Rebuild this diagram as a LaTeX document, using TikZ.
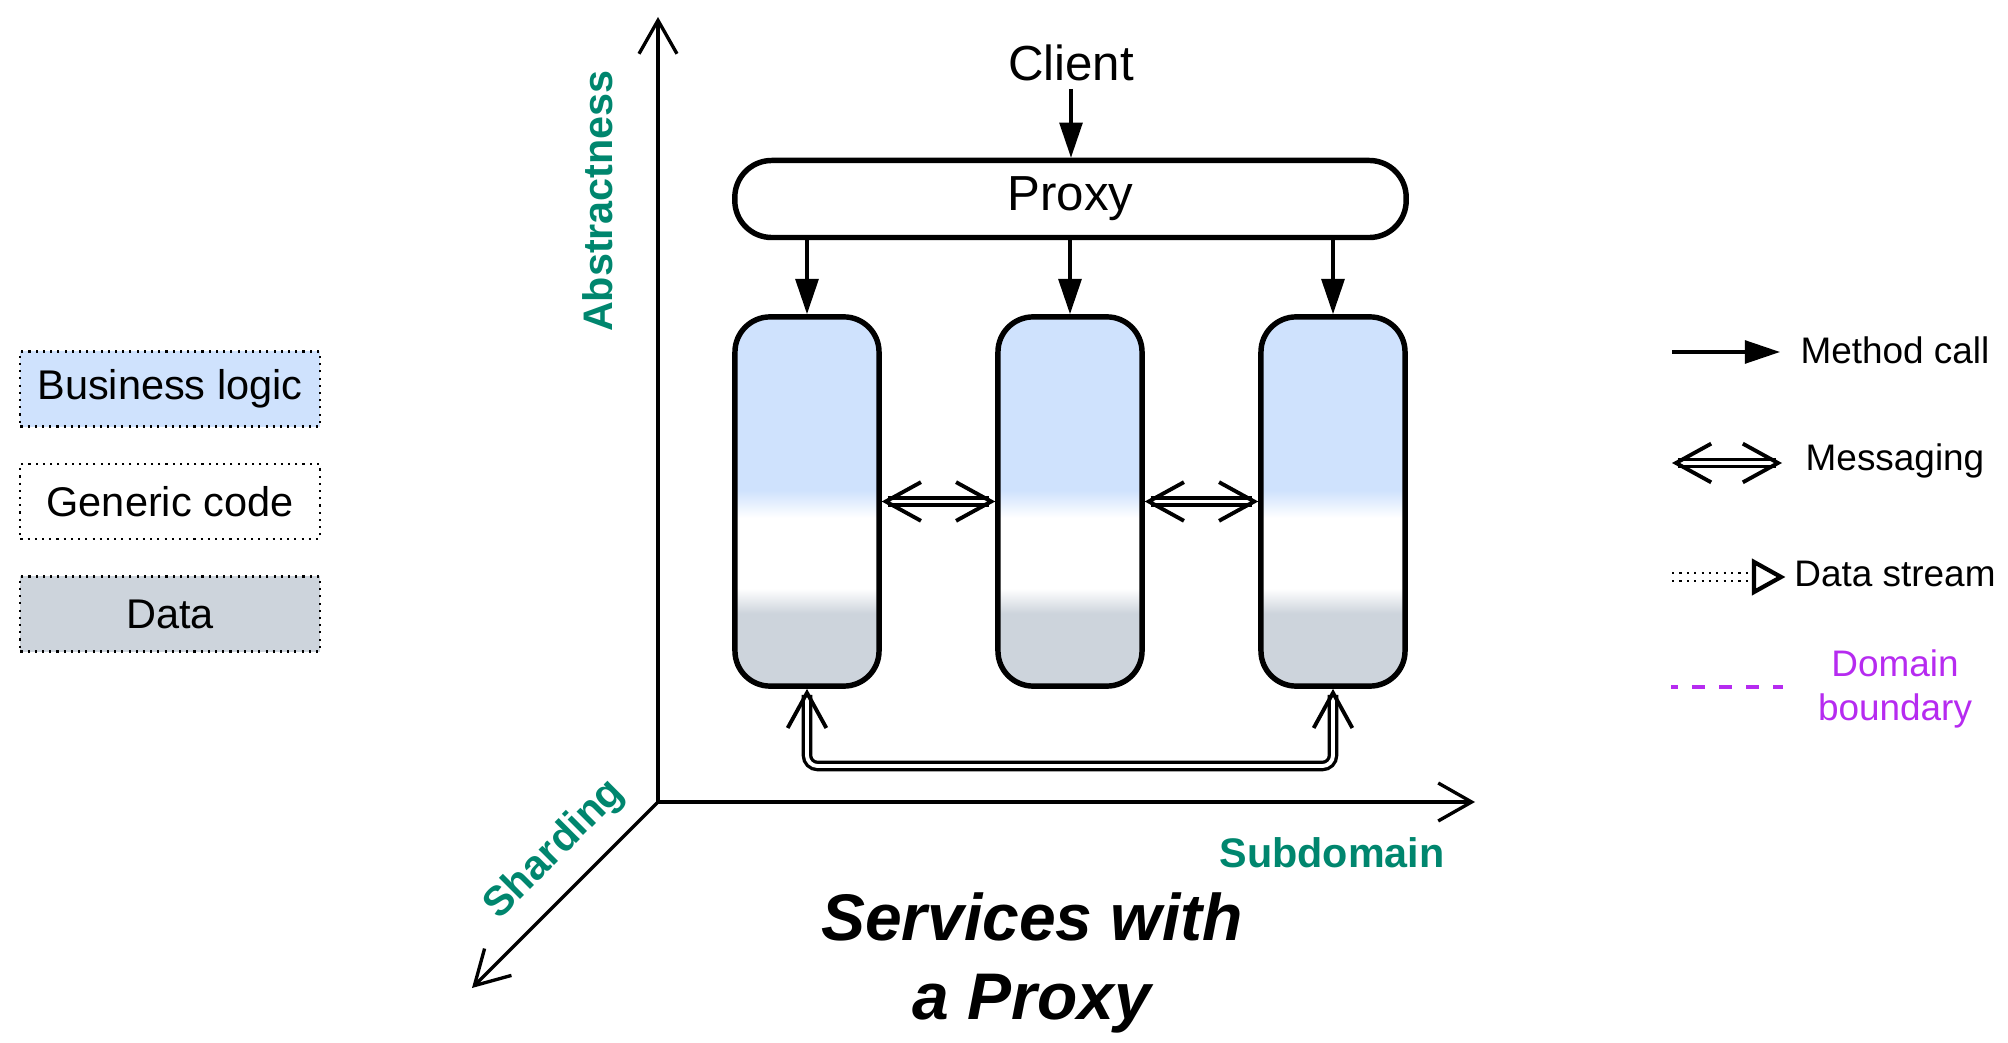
\documentclass[tikz,border=0pt]{standalone}
\usepackage{fontspec}
\setmainfont{Liberation Sans}
\usetikzlibrary{arrows.meta,calc}
\definecolor{bizblue}{RGB}{207,226,253}
\definecolor{datagrey}{RGB}{205,212,220}
\definecolor{axisteal}{RGB}{0,134,110}
\definecolor{domainpurple}{RGB}{182,43,240}
\pgfdeclareverticalshading{svcfill}{100bp}{color(0bp)=(datagrey); color(34.85bp)=(datagrey); color(38.2bp)=(white); color(47.8bp)=(white); color(51.5bp)=(bizblue); color(100bp)=(bizblue)}
\def\fsz#1#2{\fontsize{#1}{#2}\selectfont}
\tikzset{
	svc/.style={draw, line width=1.55pt, rounded corners=10pt, minimum width=1.44cm, minimum height=3.69cm, shade, shading=svcfill},
	mcall/.style={line width=0.95pt, -{Triangle[length=10pt,width=6.5pt]}},
	msg/.style={double, double distance=1.1pt, line width=0.95pt, {Straight Barb[length=10pt,width=11pt,line width=1.1pt]}-{Straight Barb[length=10pt,width=11pt,line width=1.1pt]}},
	axisline/.style={line width=0.95pt, -{Straight Barb[length=9.5pt,width=10.8pt,line width=0.95pt]}},
	axlabel/.style={text=axisteal, font=\bfseries\fsz{11.75pt}{14pt}},
	legbox/.style={draw, line width=0.6pt, dash pattern=on 0.6pt off 1.45pt, minimum width=2.99cm, minimum height=0.75cm, font=\fsz{11.8pt}{14pt}},
	legtext/.style={font=\fsz{10.5pt}{12.6pt}, align=center}
}

\begin{document}
\begin{tikzpicture}[x=0.01cm, y=-0.01cm]
	%%%%% START %%%%%
	\useasboundingbox (0, 0) rectangle (2008, 1043);
	
	% axes
	\coordinate (origin) at (658, 802);
	\coordinate (abstop) at (658, 17);
	\coordinate (subend) at (1475, 802);
	\coordinate (shardend) at (472, 988);
	\draw[axisline] (origin) -- (abstop);
	\draw[axisline] (origin) -- (subend);
	\draw[axisline] (origin) -- (shardend);
	\node[axlabel, rotate=90] (abslbl) at (598, 201) {Abstractness};
	\node[axlabel, rotate=45] (shardlbl) at (555, 850) {Sharding};
	\node[axlabel] (sublbl) at (1332, 853) {Subdomain};
	
	% client, proxy and services
	\node[font=\fsz{14pt}{17pt}, inner sep=2pt] (client) at (1071, 63) {Client};
	\node[draw, line width=1.55pt, rounded corners=10.5pt, minimum width=6.71cm, minimum height=0.77cm, font=\fsz{14pt}{17pt}] (proxy) at (1070.5, 199) {Proxy};
	\node[svc] (svcA) at (807, 501.5) {};
	\node[svc] (svcB) at (1070, 501.5) {};
	\node[svc] (svcC) at (1333, 501.5) {};
	
	\draw[mcall] (client.south) -- (client.south |- proxy.north);
	\foreach \s in {svcA,svcB,svcC}
		\draw[mcall] (\s.north |- proxy.south) -- (\s.north);
	\draw[msg] (svcA) -- (svcB);
	\draw[msg] (svcB) -- (svcC);
	\coordinate (loop) at (1070, 766);
	\draw[msg, rounded corners=3pt] (svcA.south) -- (svcA.south |- loop) -- (svcC.south |- loop) -- (svcC.south);
	
	\node[font=\bfseries\itshape\fsz{18.75pt}{22.5pt}, align=center] (title) at (1032, 963) {Services with\\a Proxy};
	
	% legend, left
	\node[legbox, fill=bizblue] (legbiz) at (170, 389) {Business logic};
	\node[legbox, fill=white] (leggen) at (170, 501.5) {Generic code};
	\node[legbox, fill=datagrey] (legdata) at (170, 614) {Data};
	
	% legend, right
	\coordinate (mcA) at (1672, 352);
	\coordinate (mcB) at (1780, 352);
	\draw[mcall] (mcA) -- (mcB);
	\node[legtext] (mclbl) at (1895, 350) {Method call};
	
	\coordinate (msA) at (1672, 463);
	\coordinate (msB) at (1782, 463);
	\draw[msg] (msA) -- (msB);
	\node[legtext] (mslbl) at (1895, 461) {Messaging};
	
	\coordinate (dsA) at (1672, 577);
	\coordinate (dsB) at (1752, 577);
	\draw[line width=0.6pt, dash pattern=on 0.6pt off 1.5pt] ($(dsA)+(0,-4)$) -- ($(dsB)+(0,-4)$);
	\draw[line width=0.6pt, dash pattern=on 0.6pt off 1.5pt] ($(dsA)+(0,4)$) -- ($(dsB)+(0,4)$);
	\draw[line width=1.2pt, fill=white] (1754, 562) -- (1781, 577) -- (1754, 592) -- cycle;
	\node[legtext] (dslbl) at (1895, 574) {Data stream};
	
	\coordinate (dbA) at (1671, 687);
	\coordinate (dbB) at (1783, 687);
	\draw[domainpurple, line width=0.95pt, dash pattern=on 3.7pt off 4pt, dash phase=1.7pt] (dbA) -- (dbB);
	\node[legtext, text=domainpurple] (dblbl) at (1895, 689) {Domain\\boundary};
	
	%%%%% END %%%%%
\end{tikzpicture}
\end{document}
